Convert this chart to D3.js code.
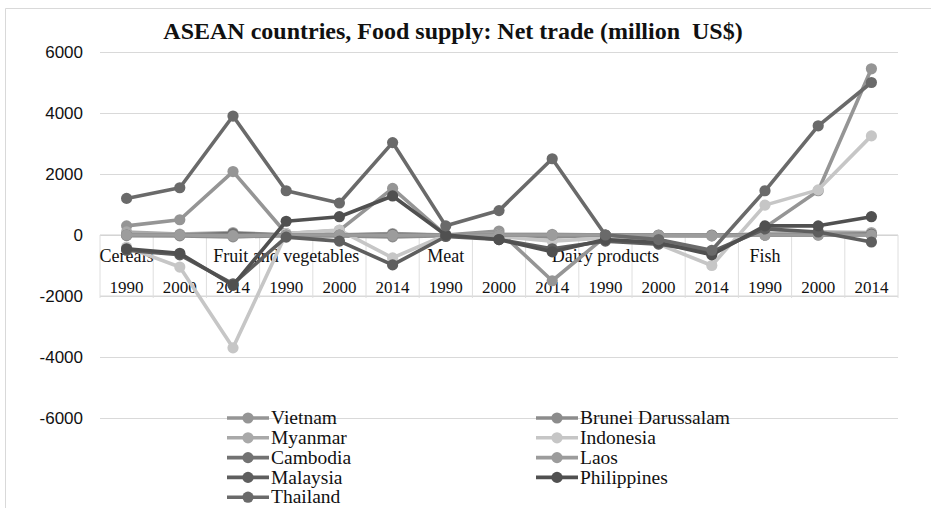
<!DOCTYPE html>
<html><head><meta charset="utf-8">
<script src="https://cdn.jsdelivr.net/npm/d3@7"></script>
<style>html,body{margin:0;padding:0;background:#fff;} svg{display:block;}</style>
</head><body>
<svg id="c" width="931" height="508"></svg>
<script>
// ---- data ----
const groups = ["Cereals", "Fruit and vegetables", "Meat", "Dairy products", "Fish"];
const years = ["1990", "2000", "2014"];
const yTicks = [6000, 4000, 2000, 0, -2000, -4000, -6000];
const seriesNames = ["Vietnam", "Brunei Darussalam", "Myanmar", "Indonesia", "Cambodia", "Laos", "Malaysia", "Philippines", "Thailand"];
const vietnam     = [300, 500, 2080, 50, 150, 1530, 0, 130, -1500, -50, -150, -600, 250, 1450, 5450];
const brunei      = [-20, -30, -60, -20, -30, -60, -20, -30, -60, -10, -20, -30, 0, 0, 0];
const myanmar     = [100, 30, 80, 0, 10, 50, 0, 20, 20, 0, -20, -30, 50, 100, 80];
const indonesia   = [-400, -1050, -3700, 50, 160, -750, 0, -50, -200, -100, -300, -1000, 980, 1480, 3250];
const cambodia    = [0, 0, 50, 0, 0, 20, 0, 0, 0, 0, 0, 0, 0, 10, 30];
const laos        = [0, 0, -20, 0, 0, -10, 0, 0, 0, 0, -10, -20, 0, 0, 0];
const malaysia    = [-500, -650, -1600, -70, -200, -980, -50, -150, -450, -200, -300, -550, 200, 100, -230];
const philippines = [-450, -600, -1650, 450, 600, 1280, 0, -150, -550, -150, -250, -650, 300, 300, 600];
const thailand    = [1200, 1550, 3900, 1450, 1050, 3030, 300, 800, 2500, 0, -150, -500, 1450, 3580, 5000];
const seriesValues = [vietnam, brunei, myanmar, indonesia, cambodia, laos, malaysia, philippines, thailand];
const seriesColors = ["#959595", "#8c8c8c", "#a9a9a9", "#c6c6c6", "#727272", "#9c9c9c", "#5e5e5e", "#505050", "#6a6a6a"];

// ---- build ----
const cats = [];
groups.forEach(g => years.forEach(y => cats.push(g + "|" + y)));

const svg = d3.select("#c");
const W = 931, H = 508;
const pLeft = 100, pRight = 898, pTop = 52, pBottom = 418;

svg.append("rect").attr("width", W).attr("height", H).attr("fill", "#fff");
svg.append("path").attr("d", `M5.5,${H} V8.5 H${W}`).attr("fill", "none").attr("stroke", "#d9d9d9").attr("stroke-width", 1);

const x = d3.scaleBand().domain(cats).range([pLeft, pRight]).padding(0);
const y = d3.scaleLinear().domain([-6000, 6000]).range([pBottom, pTop]);

// gridlines + y labels
const yAxis = d3.axisLeft(y).tickValues(yTicks).tickSize(-(pRight - pLeft)).tickPadding(17).tickFormat(d => String(d));
const ga = svg.append("g").attr("transform", `translate(${pLeft},0)`).call(yAxis);
ga.select(".domain").remove();
ga.selectAll(".tick line").attr("stroke", "#d9d9d9").attr("stroke-width", 1.2);
ga.selectAll(".tick text").attr("font-family", "'Liberation Sans', Arial, sans-serif").attr("font-size", 17).attr("fill", "#111");

// category axis table at y=0
const y0 = y(0);
const tableH = 61;
const tab = svg.append("g");
tab.append("line").attr("x1", pLeft).attr("x2", pRight).attr("y1", y0).attr("y2", y0).attr("stroke", "#d0d0d0").attr("stroke-width", 1.2);
tab.append("line").attr("x1", pLeft).attr("x2", pRight).attr("y1", y0 + tableH).attr("y2", y0 + tableH).attr("stroke", "#d9d9d9").attr("stroke-width", 1.2);
const bounds = cats.map(c => x(c)).concat([pRight]);
tab.selectAll("line.sep").data(bounds).join("line").attr("class", "sep")
  .attr("x1", d => d).attr("x2", d => d).attr("y1", y0).attr("y2", y0 + tableH + 2)
  .attr("stroke", "#dedede").attr("stroke-width", 1);
tab.selectAll("text.yr").data(cats).join("text").attr("class", "yr")
  .attr("x", d => x(d) + x.bandwidth() / 2).attr("y", y0 + 58)
  .attr("text-anchor", "middle").attr("font-family", "'Liberation Serif', 'Times New Roman', serif")
  .attr("font-size", 17).attr("fill", "#111").text(d => d.split("|")[1]);
tab.selectAll("text.grp").data(groups).join("text").attr("class", "grp")
  .attr("x", g => x(g + "|" + years[0]) + x.bandwidth() / 2)
  .attr("y", y0 + 27)
  .attr("text-anchor", "middle")
  .attr("font-family", "'Liberation Serif', 'Times New Roman', serif")
  .attr("font-size", 18).attr("fill", "#111").text(d => d);

// lines
const line = d3.line().x((d, i) => x(cats[i]) + x.bandwidth() / 2).y(d => y(d));
const sg = svg.append("g");
seriesValues.forEach((vals, si) => {
  const g = sg.append("g");
  g.append("path").attr("d", line(vals)).attr("fill", "none").attr("stroke", seriesColors[si])
    .attr("stroke-width", 3.6).attr("stroke-linejoin", "round");
  g.selectAll("circle").data(vals).join("circle")
    .attr("cx", (d, i) => x(cats[i]) + x.bandwidth() / 2).attr("cy", d => y(d))
    .attr("r", 5.6).attr("fill", seriesColors[si]);
});

// title
svg.append("text").attr("x", 453).attr("y", 39).attr("text-anchor", "middle")
  .attr("font-family", "'Liberation Serif', 'Times New Roman', serif").attr("font-weight", "bold")
  .attr("font-size", 24).attr("fill", "#111").attr("xml:space", "preserve")
  .text("ASEAN countries, Food supply: Net trade (million  US$)");

// legend
const lg = svg.append("g");
seriesNames.forEach((n, i) => {
  const col = i % 2, row = Math.floor(i / 2);
  const lx = col === 0 ? 227 : 536, ly = 418 + row * 19.8;
  const it = lg.append("g").attr("transform", `translate(${lx},${ly})`);
  it.append("line").attr("x1", 0).attr("x2", 42).attr("y1", 0).attr("y2", 0).attr("stroke", seriesColors[i]).attr("stroke-width", 3.6);
  it.append("circle").attr("cx", 21).attr("cy", 0).attr("r", 5.6).attr("fill", seriesColors[i]);
  it.append("text").attr("x", 44).attr("y", 0).attr("dy", "0.32em")
    .attr("font-family", "'Liberation Serif', 'Times New Roman', serif").attr("font-size", 19.5).attr("fill", "#111").text(n);
});
</script>
</body></html>
